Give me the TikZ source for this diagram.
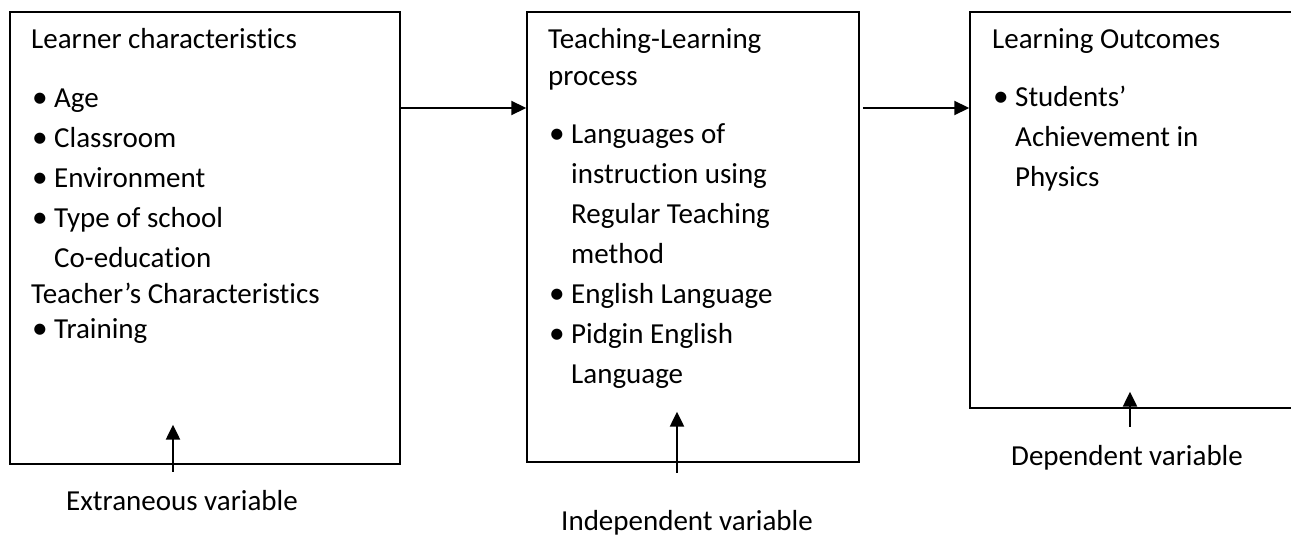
\documentclass[tikz,border=0pt]{standalone}
\usepackage{fontspec}
\setmainfont{Carlito}[Ligatures={TeX,NoCommon}]
\usetikzlibrary{arrows.meta, positioning}
\tikzstyle{boxNode} = [rectangle, draw=black, line width=1.5pt, inner sep=0pt]
\tikzstyle{txtNode} = [anchor=north west, inner sep=0pt, align=left, font=\fontsize{29}{40}\selectfont]
\tikzstyle{varNode} = [anchor=base, inner sep=0pt, font=\fontsize{29}{40}\selectfont]
\tikzstyle{arrow} = [line width=2.2pt, -{Triangle[length=15pt,width=14pt]}]
\newcommand{\bl}{\makebox[23pt][l]{\hspace*{1pt}\raisebox{-0.5pt}{\scalebox{1.08}{\textbullet}}}}
\newcommand{\ind}{\hspace*{23pt}}

\begin{document}
\begin{tikzpicture}[x=1pt, y=-1pt]
        \useasboundingbox (0,0) rectangle (1291,548);
        \clip (0,0) rectangle (1291,548);

        % the three boxes
        \node (learner) [boxNode, minimum width=390pt, minimum height=452pt] at (205,238) {};
        \node (process) [boxNode, minimum width=332pt, minimum height=450pt] at (693,237) {};
        \node (outcome) [boxNode, minimum width=326pt, minimum height=396pt] at (1133,210) {};

        \node (learnerTxt) [txtNode] at (31,20) {\strut Learner characteristics\\[19pt]
            \bl Age\\ \bl Classroom\\ \bl Environment\\ \bl Type of school\\
            \ind Co-education\\[-4pt] Teacher's Characteristics\\[-5pt] \bl Training};
        \node (processTxt) [txtNode] at (548,20) {\strut Teaching-Learning\\[-3pt] process\\[18pt]
            \bl Languages of\\ \ind instruction using\\ \ind Regular Teaching\\ \ind method\\
            \bl English Language\\ \bl Pidgin English\\ \ind Language};
        \node (outcomeTxt) [txtNode] at (992,20) {\strut Learning Outcomes\\[18pt]
            \bl Students'\\ \ind Achievement in\\ \ind Physics};

        % variable labels
        \node (extVar) [varNode] at (182,510) {Extraneous variable};
        \node (indVar) [varNode] at (687,530) {Independent variable};
        \node (depVar) [varNode] at (1127,465) {Dependent variable};

        \coordinate (flowY) at (0,108);
        \draw [arrow] (learner.east |- flowY) -- (process.west |- flowY);
        \draw [arrow, shorten <=3pt] (process.east |- flowY) -- (outcome.west |- flowY);

        \draw [arrow] ([xshift=-9pt,yshift=18pt]extVar.north) -- ++(0,-47);
        \draw [arrow] ([xshift=-10pt,yshift=37pt]indVar.north) -- ++(0,-61);
        \draw [arrow] ([xshift=3pt,yshift=18pt]depVar.north) -- ++(0,-35);
\end{tikzpicture}
\end{document}
